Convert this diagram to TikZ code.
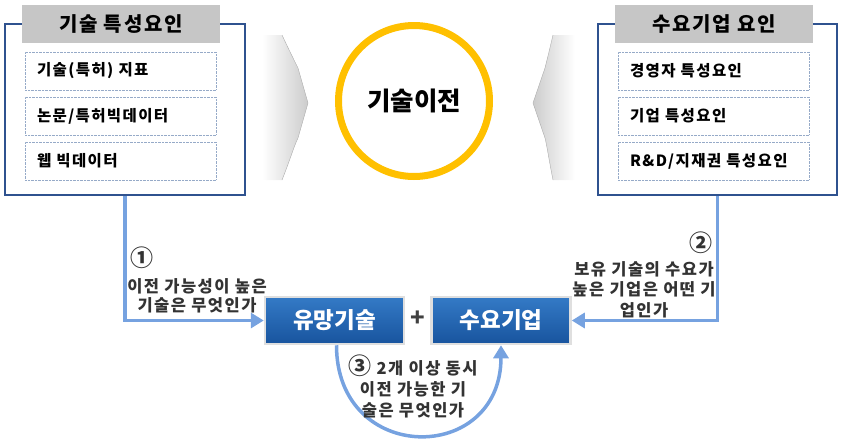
\documentclass[tikz,border=0pt]{standalone}
\usepackage{fontspec}
\setmainfont{Noto Sans CJK KR}
\newfontfamily\widefont[LetterSpace=9]{Noto Sans CJK KR}
\newcommand\bignum[1]{{\fontsize{23}{18}\selectfont #1}}
\usetikzlibrary{arrows.meta}
\definecolor{framebl}{RGB}{47,82,143}
\definecolor{flowbl}{RGB}{118,162,224}
\definecolor{ringor}{RGB}{255,192,0}
\definecolor{itemln}{RGB}{150,170,200}
\tikzset{
  frame/.style={draw=framebl, line width=2.5pt, minimum width=240pt, minimum height=171pt},
  title/.style={fill=gray!45, minimum width=198pt, minimum height=38pt, font=\widefont\fontsize{20}{22}\selectfont\bfseries},
  item/.style={draw=itemln, densely dotted, fill=white, text width=167pt, inner xsep=12pt, minimum height=38pt, align=left, font=\widefont\fontsize{15.5}{17}\selectfont\bfseries},
  goal/.style={top color={rgb,255:red,52;green,122;blue,198}, bottom color={rgb,255:red,24;green,84;blue,158}, draw=gray!25, line width=2.5pt, minimum width=139pt, minimum height=47pt, text=white, font=\fontsize{22.5}{24}\selectfont\bfseries},
  flow/.style={draw=flowbl, line width=3.5pt, -{Triangle[length=13pt,width=15pt]}},
  note/.style={align=center, text=black!80, font=\widefont\fontsize{16.5}{18.5}\selectfont\bfseries},
  chev/.style={left color=white, right color=gray!40},
}
\begin{document}
\begin{tikzpicture}[x=1pt, y=-1pt]
    \useasboundingbox (0,0) rectangle (844,445);

    % side chevrons
    \path[chev] (262,35) -- (282,35) .. controls (290,52) and (294,60) .. (298,68)
        -- (308,103) -- (298,138) .. controls (294,146) and (290,160) .. (282,180) -- (262,180) -- cycle;
    \draw[gray!65] (282,35) .. controls (290,52) and (294,60) .. (298,68)
        -- (308,103) -- (298,138) .. controls (294,146) and (290,160) .. (282,180);
    \path[left color=gray!40, right color=white] (575,35) -- (553,35) .. controls (549,52) and (547,60) .. (545,68)
        -- (533,103) -- (545,138) .. controls (547,146) and (549,160) .. (553,180) -- (575,180) -- cycle;
    \draw[gray!65] (553,35) .. controls (549,52) and (547,60) .. (545,68)
        -- (533,103) -- (545,138) .. controls (547,146) and (549,160) .. (553,180);

    % centre
    \node[circle, draw=ringor, line width=7pt, minimum size=151pt,
          font=\fontsize{25.5}{27}\selectfont\bfseries] (core) at (414,101) {기술이전};

    % left group
    \node[frame] (lframe) at (125,109.5) {};
    \node[title] (ltitle) at (121,24) {기술 특성요인};
    \node[item] (l1) at (120.5,71) {기술(특허) 지표};
    \node[item] (l2) at (120.5,116) {논문/특허빅데이터};
    \node[item] (l3) at (120.5,161) {웹 빅데이터};

    % right group
    \node[frame, minimum width=239pt] (rframe) at (717.5,109.5) {};
    \node[title] (rtitle) at (714,24) {수요기업 요인};
    \node[item] (r1) at (713.5,71) {경영자 특성요인};
    \node[item] (r2) at (713.5,116) {기업 특성요인};
    \node[item] (r3) at (713.5,161) {R\&D/지재권 특성요인};

    % bottom
    \node[goal] (tech) at (334.5,320.5) {유망기술};
    \node[goal] (demand) at (501,320.5) {수요기업};
    \node[font=\fontsize{24}{24}\selectfont\bfseries, text=black!75] (plus) at (418,319) {+};

    \draw[flow] (lframe.south) |- (tech.west);
    \draw[flow] (rframe.south) |- (demand.east);
    \draw[flow] ([xshift=2pt]tech.south) .. controls +(0,120) and +(0,120) .. (demand.south);

    \node[note] (n1) at (142,258) {\bignum{①}};
    \node[note] (q1) at (197,296) {이전 가능성이 높은\\기술은 무엇인가};
    \node[note] (n2) at (701,243) {\bignum{②}};
    \node[note, font=\widefont\fontsize{16.5}{20.5}\selectfont\bfseries] (q2) at (644,289.5) {보유 기술의 수요가\\높은 기업은 어떤 기\\업인가};
    \node[note, font=\widefont\fontsize{16.5}{21}\selectfont\bfseries] (q3) at (413,386) {\bignum{③} 2개 이상 동시\\이전 가능한 기\\술은 무엇인가};
\end{tikzpicture}
\end{document}
